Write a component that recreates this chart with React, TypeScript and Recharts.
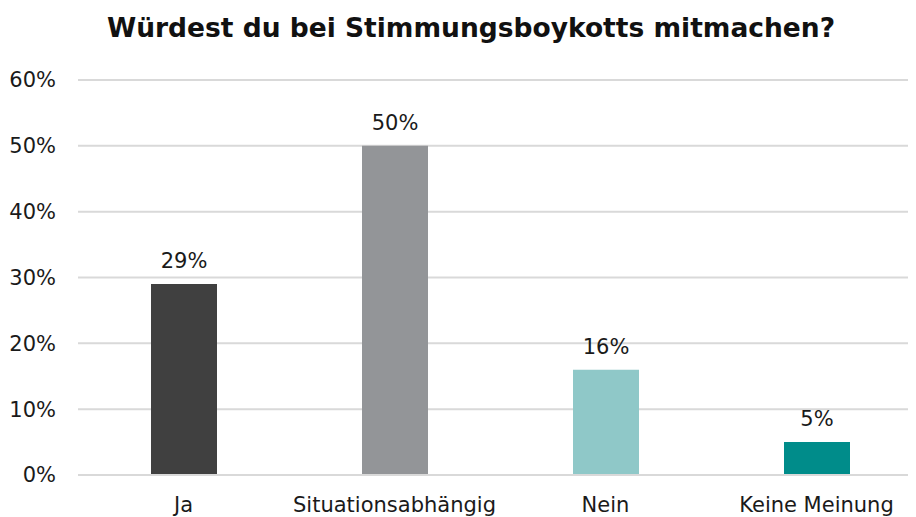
import { BarChart, Bar, XAxis, YAxis, CartesianGrid, Cell, LabelList } from 'recharts';

const categories = ['Ja', 'Situationsabhängig', 'Nein', 'Keine Meinung'];
const shares = [29, 50, 16, 5];
const yTicks = [0, 10, 20, 30, 40, 50, 60];

const COLORS = ['#404040', '#939598', '#8fc8c8', '#008c8a'];

const data = categories.map((name, i) => ({ name, value: shares[i] }));

const FONT = '"DejaVu Sans", "Noto Sans", sans-serif';

export default function App() {
  return (
    <div style={{ margin: '-8px 0 0 -8px', width: 916, height: 517, position: 'relative', overflow: 'hidden', background: '#fff', fontFamily: FONT }}>
      <div
        style={{
          position: 'absolute',
          top: 12,
          left: 0,
          width: 916,
          boxSizing: 'border-box',
          paddingLeft: 26,
          textAlign: 'center',
          fontSize: 26.5,
          fontWeight: 700,
          color: '#111',
          whiteSpace: 'nowrap',
        }}
      >
        Würdest du bei Stimmungsboykotts mitmachen?
      </div>
      <BarChart
        width={916}
        height={517}
        data={data}
        margin={{ top: 80, right: -6, bottom: 0, left: 0 }}
        style={{ fontFamily: FONT }}
      >
        <CartesianGrid vertical={false} stroke="#d9d9d9" strokeWidth={2} />
        <XAxis
          dataKey="name"
          axisLine={{ stroke: '#d9d9d9', strokeWidth: 2 }}
          tickLine={false}
          height={42}
          tickSize={0}
          tickMargin={22}
          interval={0}
          tick={{ fontSize: 21, fill: '#1a1a1a' }}
        />
        <YAxis
          domain={[0, 60]}
          ticks={yTicks}
          tickFormatter={(v: number) => `${v}%`}
          axisLine={false}
          tickLine={false}
          tickSize={0}
          tickMargin={22}
          width={78}
          tick={{ fontSize: 21, fill: '#1a1a1a' }}
        />
        <Bar dataKey="value" barSize={66} isAnimationActive={false}>
          {data.map((entry, index) => (
            <Cell key={`cell-${index}`} fill={COLORS[index]} />
          ))}
          <LabelList
            dataKey="value"
            position="top"
            offset={16}
            formatter={(v: any) => `${v}%`}
            style={{ fontSize: 21, fill: '#1a1a1a' }}
          />
        </Bar>
      </BarChart>
    </div>
  );
}
